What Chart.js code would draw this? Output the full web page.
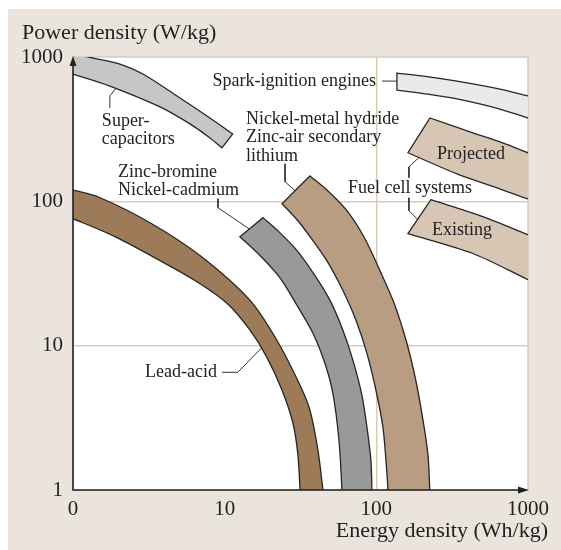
<!DOCTYPE html>
<html>
<head>
<meta charset="utf-8">
<script src="https://cdn.jsdelivr.net/npm/chart.js@4.4.1/dist/chart.umd.min.js"></script>
<style>
  html, body { margin: 0; padding: 0; background: #fff; }
  canvas { display: block; }
</style>
</head>
<body>
<canvas id="ragone" width="561" height="550"></canvas>
<script>
// axis ticks
const xTickValues = [1, 10, 100, 1000];
const xTickLabels = ["0", "10", "100", "1000"];
const yTickValues = [1, 10, 100, 1000];
const yTickLabels = ["1", "10", "100", "1000"];

// band outlines as [energy density Wh/kg, power density W/kg], walked round the band
// (points just outside 1..1000 get clipped by the plot area)
const supercapacitors = [[0.95, 775], [1, 762], [1.75, 629], [3.75, 451], [5.9, 344], [8, 275], [9.6, 235], [9.6, 235],
  [11.3, 293], [11.3, 293], [8, 378], [4.85, 537], [2.89, 762], [2.04, 893], [1.36, 983], [0.95, 1064]];
const leadAcid = [[0.95, 122], [1, 120], [1.51, 105.9], [3.22, 71.1], [6.87, 42.1], [14.7, 20.6], [22.1, 10.9],
  [31.4, 5.32], [36.5, 3.57], [41.2, 1.89], [44.5, 1], [45.6, 0.85], [31.4, 0.85], [31.4, 1], [30.4, 1.75], [28.2, 2.9],
  [23.9, 4.91], [19, 8.3], [14.7, 12.8], [10.4, 19.6], [6.37, 28.3], [3.75, 38.8], [1.89, 56.9], [1, 75.8], [0.95, 77]];
const zincBromine = [[59.3, 0.85], [59.3, 1], [56.7, 2.22], [51.7, 4.68], [45.8, 7.55], [38.2, 12.2], [30, 19], [23.1, 29.6],
  [17.1, 42.1], [12.6, 56.9], [12.6, 56.9], [17.9, 77.1], [17.9, 77.1], [23.1, 60.7], [30, 45.6], [39.4, 30.6], [49.5, 20.6],
  [60.2, 12.8], [70.1, 7.91], [80.4, 4.53], [86.7, 2.73], [92.1, 1.61], [93.5, 1], [93.5, 0.85]];
const nickelMetalHydride = [[119.3, 0.85], [119.3, 1], [115.7, 1.61], [110.5, 2.73], [99.4, 4.91], [86.7, 8.85], [73.4, 15],
  [60.2, 24.1], [48, 37.6], [38.2, 53.4], [30.4, 73.4], [23.9, 96.3], [23.9, 96.3], [36.5, 150], [36.5, 150], [48, 118],
  [64, 86.1], [84.1, 55.1], [105.6, 33.1], [132.6, 19], [159, 10.4], [182, 5.76], [203, 3.05], [219, 1.75], [225, 1], [225, 0.85]];
const sparkIgnition = [[1111, 520], [998, 537], [653, 600], [340, 681], [215.6, 732], [136.7, 774], [136.7, 774],
  [136.7, 590], [136.7, 590], [215.6, 554], [340, 512], [653, 436], [998, 378], [1111, 366]];
const fuelCellProjected = [[1111, 207], [998, 217], [653, 258], [433, 298], [225.6, 378], [225.6, 378],
  [161.6, 217], [161.6, 217], [340, 155], [561, 129], [998, 104], [1111, 101]];
const fuelCellExisting = [[1111, 56], [998, 58.8], [482, 79.5], [229, 102.6], [229, 102.6],
  [161.6, 59.7], [161.6, 59.7], [433, 43.5], [998, 28.7], [1111, 27.4]];

// leader lines from labels to bands
const leaderSupercap = [[1.75, 443], [1.75, 537], [2.04, 660]];
const leaderSpark = [[109, 681], [147.5, 681]];
const leaderNiMH = [[25, 182], [25, 136.6], [32.3, 107.6]];
const leaderZincBromine = [[9.03, 104.2], [9.03, 90.3], [15.8, 60.7]];
const leaderLeadAcid = [[9.6, 6.54], [12.2, 6.54], [18.2, 10.05]];
const leaderProjected = [[206, 217], [164, 173.4], [164, 145.6]];
const leaderExisting = [[164, 105.9], [164, 86.1], [203, 68.9]];

// labels: text lines, anchor in data units, alignment
const labels = [
  { lines: ["Super-", "capacitors"], x: 1.55, y: 361, align: "left" },
  { lines: ["Spark-ignition engines"], x: 99.4, y: 681, align: "right" },
  { lines: ["Nickel-metal hydride", "Zinc-air secondary", "lithium"], x: 13.8, y: 372, align: "left" },
  { lines: ["Zinc-bromine", "Nickel-cadmium"], x: 1.98, y: 160, align: "left" },
  { lines: ["Lead-acid"], x: 8.9, y: 6.54, align: "right" },
  { lines: ["Projected"], x: 251, y: 213, align: "left" },
  { lines: ["Fuel cell systems"], x: 65, y: 124, align: "left" },
  { lines: ["Existing"], x: 232.6, y: 62.6, align: "left" }
];

const serif = "'Liberation Serif', 'DejaVu Serif', serif";
const ink = "#222";
const gridColor = "#dccbb9";

const toXY = pts => pts.map(p => ({ x: p[0], y: p[1] }));

function band(pts, color) {
  return {
    data: toXY(pts), showLine: true, fill: "shape", backgroundColor: color,
    borderColor: "#262626", borderWidth: 1.3, pointRadius: 0, tension: 0.3, clip: 0
  };
}
function leader(pts) {
  return {
    data: toXY(pts), showLine: true, fill: false, borderColor: "#333",
    borderWidth: 1, pointRadius: 0, tension: 0, clip: 0
  };
}

const decor = {
  id: "decor",
  beforeDraw(chart) {
    const { ctx, chartArea: a, width, height } = chart;
    ctx.save();
    ctx.fillStyle = "#ebe4dc";
    ctx.fillRect(8, 9, width - 8, height - 9);
    ctx.fillStyle = "#fff";
    ctx.fillRect(a.left, a.top, a.right - a.left, a.bottom - a.top);
    ctx.strokeStyle = gridColor;
    ctx.lineWidth = 1.5;
    ctx.strokeRect(a.left, a.top, a.right - a.left, a.bottom - a.top);
    ctx.restore();
  },
  afterDatasetsDraw(chart) {
    const { ctx, chartArea: a, scales } = chart;
    ctx.save();
    // axes with arrows
    ctx.strokeStyle = ink;
    ctx.fillStyle = ink;
    ctx.lineWidth = 1.6;
    ctx.beginPath();
    ctx.moveTo(a.left, a.top + 6);
    ctx.lineTo(a.left, a.bottom);
    ctx.lineTo(a.right - 6, a.bottom);
    ctx.stroke();
    ctx.beginPath();
    ctx.moveTo(a.left, a.top - 1);
    ctx.lineTo(a.left - 3.5, a.top + 9);
    ctx.lineTo(a.left + 3.5, a.top + 9);
    ctx.closePath();
    ctx.fill();
    ctx.beginPath();
    ctx.moveTo(a.right + 1, a.bottom);
    ctx.lineTo(a.right - 10, a.bottom - 3.5);
    ctx.lineTo(a.right - 10, a.bottom + 3.5);
    ctx.closePath();
    ctx.fill();

    // annotations
    ctx.font = "18px " + serif;
    ctx.textBaseline = "middle";
    labels.forEach(l => {
      const px = scales.x.getPixelForValue(l.x);
      const py = scales.y.getPixelForValue(l.y);
      ctx.textAlign = l.align;
      l.lines.forEach((t, i) => ctx.fillText(t, px, py + i * 18.5));
    });

    // axis titles
    ctx.font = "22px " + serif;
    ctx.textAlign = "left";
    ctx.fillText("Power density (W/kg)", a.left - 51, a.top - 24);
    ctx.textAlign = "right";
    ctx.fillText("Energy density (Wh/kg)", a.right + 20, a.bottom + 41);
    ctx.restore();
  }
};

new Chart(document.getElementById("ragone"), {
  type: "scatter",
  data: {
    datasets: [
      band(supercapacitors, "#c5c6c6"),
      band(leadAcid, "#9d7a58"),
      band(zincBromine, "#999999"),
      band(nickelMetalHydride, "#b89d83"),
      band(sparkIgnition, "#e9ebeb"),
      band(fuelCellProjected, "#d8c6b5"),
      band(fuelCellExisting, "#d8c6b5"),
      leader(leaderSupercap),
      leader(leaderSpark),
      leader(leaderNiMH),
      leader(leaderZincBromine),
      leader(leaderLeadAcid),
      leader(leaderProjected),
      leader(leaderExisting)
    ]
  },
  options: {
    responsive: false,
    animation: false,
    layout: { padding: { left: 8, top: 57, right: 33, bottom: 26 } },
    elements: { line: { capBezierPoints: false } },
    plugins: { legend: { display: false }, tooltip: { enabled: false } },
    scales: {
      x: {
        type: "logarithmic", min: 1, max: 1000,
        afterBuildTicks: s => { s.ticks = xTickValues.map(v => ({ value: v })); },
        afterFit: s => { s.height = 34; },
        ticks: {
          callback: v => xTickLabels[xTickValues.indexOf(v)],
          font: { family: serif, size: 21 }, color: ink, padding: 7,
          maxRotation: 0, autoSkip: false
        },
        grid: { color: c => (c.tick && c.tick.value === 100 ? gridColor : "transparent"), lineWidth: 1.5, drawTicks: false },
        border: { display: false }
      },
      y: {
        type: "logarithmic", min: 1, max: 1000,
        afterBuildTicks: s => { s.ticks = yTickValues.map(v => ({ value: v })); },
        afterFit: s => { s.width = 65; },
        ticks: {
          callback: v => yTickLabels[yTickValues.indexOf(v)],
          font: { family: serif, size: 21 }, color: ink, padding: 10, autoSkip: false
        },
        grid: { color: c => (c.tick && (c.tick.value === 10 || c.tick.value === 100) ? gridColor : "transparent"), lineWidth: 1.5, drawTicks: false },
        border: { display: false }
      }
    }
  },
  plugins: [decor]
});
</script>
</body>
</html>
